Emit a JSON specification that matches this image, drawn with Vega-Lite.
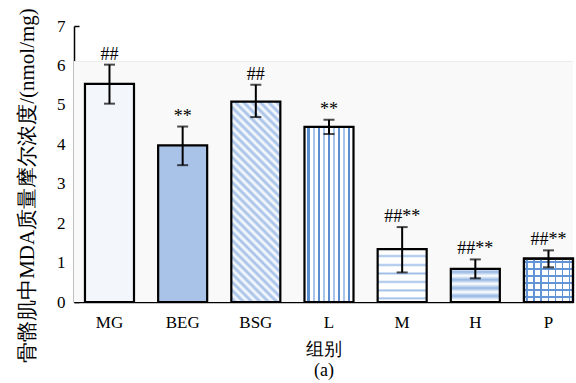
{
  "$schema": "https://vega.github.io/schema/vega-lite/v6.json",
  "width": 499,
  "height": 276,
  "autosize": {"type": "none"},
  "padding": {"left": 74, "top": 26, "right": 3, "bottom": 81},
  "background": "white",
  "config": {
    "view": {"stroke": null},
    "font": "Liberation Serif",
    "axisX": {
      "labelAngle": 0, "ticks": false,
      "domainColor": "black", "domainWidth": 1.5,
      "labelFont": "Liberation Serif", "labelFontSize": 17, "labelColor": "black", "labelPadding": 12,
      "titleFont": "Liberation Serif", "titleFontSize": 18, "titleFontWeight": "normal",
      "titleColor": "black", "titleLineHeight": 21, "titleY": 38, "titleBaseline": "top"
    },
    "axisY": {
      "grid": false, "tickCount": 7,
      "tickSize": -5, "tickColor": "black", "tickWidth": 1.5,
      "domainColor": "black", "domainWidth": 1.5,
      "labelFont": "Liberation Serif", "labelFontSize": 17, "labelColor": "black", "labelPadding": 14,
      "titleFont": "Liberation Serif", "titleFontSize": 21, "titleFontWeight": "normal",
      "titleColor": "black", "titleX": -47, "titleY": 159, "titleAngle": -90,
      "titleAlign": "center", "titleBaseline": "middle"
    }
  },
  "data": {"values": [
    {"g": "MG", "v": 5.53, "lo": 5.03, "hi": 6.02, "sig": "##"},
    {"g": "BEG", "v": 3.97, "lo": 3.47, "hi": 4.45, "sig": "**"},
    {"g": "BSG", "v": 5.08, "lo": 4.69, "hi": 5.51, "sig": "##"},
    {"g": "L", "v": 4.44, "lo": 4.26, "hi": 4.62, "sig": "**"},
    {"g": "M", "v": 1.34, "lo": 0.75, "hi": 1.9, "sig": "##**"},
    {"g": "H", "v": 0.84, "lo": 0.6, "hi": 1.08, "sig": "##**"},
    {"g": "P", "v": 1.1, "lo": 0.88, "hi": 1.31, "sig": "##**"}
  ]},
  "encoding": {
    "x": {
      "field": "g", "type": "nominal",
      "sort": ["MG", "BEG", "BSG", "L", "M", "H", "P"],
      "scale": {"domain": ["MG", "BEG", "BSG", "L", "M", "H", "P"], "paddingInner": 0.33, "paddingOuter": 0.075, "align": 1},
      "axis": {"title": ["组别", "(a)"]}
    }
  },
  "layer": [
    {
      "data": {"values": [{"top": 6.1}]},
      "mark": {"type": "rect", "fill": "#f9f9f9"},
      "encoding": {
        "x": {"value": 0}, "x2": {"value": "width"},
        "y": {"field": "top", "type": "quantitative", "scale": {"domain": [0, 7], "nice": false}, "axis": {"title": "骨骼肌中MDA质量摩尔浓度/(nmol/mg)"}},
        "y2": {"datum": 0}
      }
    },
    {
      "data": {"values": [{"top": 6.1}]},
      "mark": {"type": "rule", "color": "#ebebeb", "strokeWidth": 1},
      "encoding": {
        "x": {"value": 0}, "x2": {"value": "width"},
        "y": {"field": "top", "type": "quantitative", "axis": {"title": "骨骼肌中MDA质量摩尔浓度/(nmol/mg)"}}
      }
    },
    {
      "transform": [{"filter": "datum.g === 'MG'"}],
      "mark": {"type": "bar", "fill": "#f3f7fc", "stroke": "black", "strokeWidth": 2.2},
      "encoding": {"y": {"field": "v", "type": "quantitative", "scale": {"domain": [0, 7], "nice": false}, "axis": {"title": "骨骼肌中MDA质量摩尔浓度/(nmol/mg)"}}}
    },
    {
      "transform": [{"filter": "datum.g === 'BEG'"}],
      "mark": {"type": "bar", "fill": "#a8c3e7", "stroke": "black", "strokeWidth": 2.2},
      "encoding": {"y": {"field": "v", "type": "quantitative", "axis": {"title": "骨骼肌中MDA质量摩尔浓度/(nmol/mg)"}}}
    },
    {
      "transform": [{"filter": "datum.g === 'BSG'"}],
      "mark": {"type": "bar", "stroke": "black", "strokeWidth": 2.2,
        "fill": {"gradient": "linear", "x1": 0, "y1": 1, "x2": 0.288, "y2": -0.175, "stops": [
          {"offset": 0, "color": "#ffffff"}, {"offset": 0.0167, "color": "#9fbde6"},
          {"offset": 0.0333, "color": "#ffffff"}, {"offset": 0.05, "color": "#9fbde6"},
          {"offset": 0.0667, "color": "#ffffff"}, {"offset": 0.0833, "color": "#9fbde6"},
          {"offset": 0.1, "color": "#ffffff"}, {"offset": 0.1167, "color": "#9fbde6"},
          {"offset": 0.1333, "color": "#ffffff"}, {"offset": 0.15, "color": "#9fbde6"},
          {"offset": 0.1667, "color": "#ffffff"}, {"offset": 0.1833, "color": "#9fbde6"},
          {"offset": 0.2, "color": "#ffffff"}, {"offset": 0.2167, "color": "#9fbde6"},
          {"offset": 0.2333, "color": "#ffffff"}, {"offset": 0.25, "color": "#9fbde6"},
          {"offset": 0.2667, "color": "#ffffff"}, {"offset": 0.2833, "color": "#9fbde6"},
          {"offset": 0.3, "color": "#ffffff"}, {"offset": 0.3167, "color": "#9fbde6"},
          {"offset": 0.3333, "color": "#ffffff"}, {"offset": 0.35, "color": "#9fbde6"},
          {"offset": 0.3667, "color": "#ffffff"}, {"offset": 0.3833, "color": "#9fbde6"},
          {"offset": 0.4, "color": "#ffffff"}, {"offset": 0.4167, "color": "#9fbde6"},
          {"offset": 0.4333, "color": "#ffffff"}, {"offset": 0.45, "color": "#9fbde6"},
          {"offset": 0.4667, "color": "#ffffff"}, {"offset": 0.4833, "color": "#9fbde6"},
          {"offset": 0.5, "color": "#ffffff"}, {"offset": 0.5167, "color": "#9fbde6"},
          {"offset": 0.5333, "color": "#ffffff"}, {"offset": 0.55, "color": "#9fbde6"},
          {"offset": 0.5667, "color": "#ffffff"}, {"offset": 0.5833, "color": "#9fbde6"},
          {"offset": 0.6, "color": "#ffffff"}, {"offset": 0.6167, "color": "#9fbde6"},
          {"offset": 0.6333, "color": "#ffffff"}, {"offset": 0.65, "color": "#9fbde6"},
          {"offset": 0.6667, "color": "#ffffff"}, {"offset": 0.6833, "color": "#9fbde6"},
          {"offset": 0.7, "color": "#ffffff"}, {"offset": 0.7167, "color": "#9fbde6"},
          {"offset": 0.7333, "color": "#ffffff"}, {"offset": 0.75, "color": "#9fbde6"},
          {"offset": 0.7667, "color": "#ffffff"}, {"offset": 0.7833, "color": "#9fbde6"},
          {"offset": 0.8, "color": "#ffffff"}, {"offset": 0.8167, "color": "#9fbde6"},
          {"offset": 0.8333, "color": "#ffffff"}, {"offset": 0.85, "color": "#9fbde6"},
          {"offset": 0.8667, "color": "#ffffff"}, {"offset": 0.8833, "color": "#9fbde6"},
          {"offset": 0.9, "color": "#ffffff"}, {"offset": 0.9167, "color": "#9fbde6"},
          {"offset": 0.9333, "color": "#ffffff"}, {"offset": 0.95, "color": "#9fbde6"},
          {"offset": 0.9667, "color": "#ffffff"}, {"offset": 0.9833, "color": "#9fbde6"},
          {"offset": 1, "color": "#ffffff"}
        ]}},
      "encoding": {"y": {"field": "v", "type": "quantitative", "axis": {"title": "骨骼肌中MDA质量摩尔浓度/(nmol/mg)"}}}
    },
    {
      "transform": [{"filter": "datum.g === 'L'"}],
      "mark": {"type": "bar", "stroke": "black", "strokeWidth": 2.2,
        "fill": {"gradient": "linear", "x1": 0, "y1": 0, "x2": 1, "y2": 0, "stops": [
          {"offset": 0, "color": "#ffffff"},
          {"offset": 0.06, "color": "#ffffff"}, {"offset": 0.06, "color": "#5b8dd1"}, {"offset": 0.104, "color": "#5b8dd1"}, {"offset": 0.104, "color": "#ffffff"},
          {"offset": 0.164, "color": "#ffffff"}, {"offset": 0.164, "color": "#a7c4ea"}, {"offset": 0.208, "color": "#a7c4ea"}, {"offset": 0.208, "color": "#ffffff"},
          {"offset": 0.268, "color": "#ffffff"}, {"offset": 0.268, "color": "#5b8dd1"}, {"offset": 0.312, "color": "#5b8dd1"}, {"offset": 0.312, "color": "#ffffff"},
          {"offset": 0.372, "color": "#ffffff"}, {"offset": 0.372, "color": "#a7c4ea"}, {"offset": 0.416, "color": "#a7c4ea"}, {"offset": 0.416, "color": "#ffffff"},
          {"offset": 0.476, "color": "#ffffff"}, {"offset": 0.476, "color": "#5b8dd1"}, {"offset": 0.52, "color": "#5b8dd1"}, {"offset": 0.52, "color": "#ffffff"},
          {"offset": 0.58, "color": "#ffffff"}, {"offset": 0.58, "color": "#a7c4ea"}, {"offset": 0.624, "color": "#a7c4ea"}, {"offset": 0.624, "color": "#ffffff"},
          {"offset": 0.684, "color": "#ffffff"}, {"offset": 0.684, "color": "#5b8dd1"}, {"offset": 0.728, "color": "#5b8dd1"}, {"offset": 0.728, "color": "#ffffff"},
          {"offset": 0.788, "color": "#ffffff"}, {"offset": 0.788, "color": "#a7c4ea"}, {"offset": 0.832, "color": "#a7c4ea"}, {"offset": 0.832, "color": "#ffffff"},
          {"offset": 0.892, "color": "#ffffff"}, {"offset": 0.892, "color": "#5b8dd1"}, {"offset": 0.936, "color": "#5b8dd1"}, {"offset": 0.936, "color": "#ffffff"},
          {"offset": 1, "color": "#ffffff"}
        ]}},
      "encoding": {"y": {"field": "v", "type": "quantitative", "axis": {"title": "骨骼肌中MDA质量摩尔浓度/(nmol/mg)"}}}
    },
    {
      "transform": [{"filter": "datum.g === 'M'"}],
      "mark": {"type": "bar", "stroke": "black", "strokeWidth": 2.2,
        "fill": {"gradient": "linear", "x1": 0, "y1": 0, "x2": 0, "y2": 1, "stops": [
          {"offset": 0, "color": "#ffffff"},
          {"offset": 0.095, "color": "#ffffff"}, {"offset": 0.13, "color": "#9dbde6"}, {"offset": 0.165, "color": "#ffffff"},
          {"offset": 0.265, "color": "#ffffff"}, {"offset": 0.3, "color": "#9dbde6"}, {"offset": 0.335, "color": "#ffffff"},
          {"offset": 0.425, "color": "#ffffff"}, {"offset": 0.46, "color": "#9dbde6"}, {"offset": 0.495, "color": "#ffffff"},
          {"offset": 0.585, "color": "#ffffff"}, {"offset": 0.62, "color": "#9dbde6"}, {"offset": 0.655, "color": "#ffffff"},
          {"offset": 0.745, "color": "#ffffff"}, {"offset": 0.78, "color": "#9dbde6"}, {"offset": 0.815, "color": "#ffffff"},
          {"offset": 0.895, "color": "#ffffff"}, {"offset": 0.93, "color": "#9dbde6"}, {"offset": 0.965, "color": "#ffffff"},
          {"offset": 1, "color": "#ffffff"}
        ]}},
      "encoding": {"y": {"field": "v", "type": "quantitative", "axis": {"title": "骨骼肌中MDA质量摩尔浓度/(nmol/mg)"}}}
    },
    {
      "transform": [{"filter": "datum.g === 'H'"}],
      "mark": {"type": "bar", "stroke": "black", "strokeWidth": 2.2,
        "fill": {"gradient": "linear", "x1": 0, "y1": 0, "x2": 0, "y2": 1, "stops": [
          {"offset": 0, "color": "#ffffff"}, {"offset": 0.09, "color": "#93b5e2"},
          {"offset": 0.21, "color": "#ffffff"}, {"offset": 0.33, "color": "#93b5e2"},
          {"offset": 0.45, "color": "#ffffff"}, {"offset": 0.58, "color": "#93b5e2"},
          {"offset": 0.7, "color": "#ffffff"}, {"offset": 0.82, "color": "#93b5e2"},
          {"offset": 0.94, "color": "#ffffff"}, {"offset": 1, "color": "#ffffff"}
        ]}},
      "encoding": {"y": {"field": "v", "type": "quantitative", "axis": {"title": "骨骼肌中MDA质量摩尔浓度/(nmol/mg)"}}}
    },
    {
      "transform": [{"filter": "datum.g === 'P'"}],
      "mark": {"type": "bar", "stroke": "black", "strokeWidth": 2.2,
        "fill": {"gradient": "linear", "x1": 0, "y1": 0, "x2": 0, "y2": 1, "stops": [
          {"offset": 0, "color": "#ffffff"},
          {"offset": 0.058, "color": "#ffffff"}, {"offset": 0.058, "color": "#6395d6"}, {"offset": 0.104, "color": "#6395d6"}, {"offset": 0.104, "color": "#ffffff"},
          {"offset": 0.221, "color": "#ffffff"}, {"offset": 0.221, "color": "#6395d6"}, {"offset": 0.267, "color": "#6395d6"}, {"offset": 0.267, "color": "#ffffff"},
          {"offset": 0.384, "color": "#ffffff"}, {"offset": 0.384, "color": "#6395d6"}, {"offset": 0.43, "color": "#6395d6"}, {"offset": 0.43, "color": "#ffffff"},
          {"offset": 0.547, "color": "#ffffff"}, {"offset": 0.547, "color": "#6395d6"}, {"offset": 0.593, "color": "#6395d6"}, {"offset": 0.593, "color": "#ffffff"},
          {"offset": 0.71, "color": "#ffffff"}, {"offset": 0.71, "color": "#6395d6"}, {"offset": 0.756, "color": "#6395d6"}, {"offset": 0.756, "color": "#ffffff"},
          {"offset": 0.872, "color": "#ffffff"}, {"offset": 0.872, "color": "#6395d6"}, {"offset": 0.918, "color": "#6395d6"}, {"offset": 0.918, "color": "#ffffff"},
          {"offset": 1, "color": "#ffffff"}
        ]}},
      "encoding": {"y": {"field": "v", "type": "quantitative", "axis": {"title": "骨骼肌中MDA质量摩尔浓度/(nmol/mg)"}}}
    },
    {
      "transform": [{"filter": "datum.g === 'P'"}],
      "mark": {"type": "bar", "stroke": "black", "strokeWidth": 2.2,
        "fill": {"gradient": "linear", "x1": 0, "y1": 0, "x2": 1, "y2": 0, "stops": [
          {"offset": 0, "color": "rgba(255,255,255,0)"},
          {"offset": 0.051, "color": "rgba(255,255,255,0)"}, {"offset": 0.051, "color": "#6395d6"}, {"offset": 0.091, "color": "#6395d6"}, {"offset": 0.091, "color": "rgba(255,255,255,0)"},
          {"offset": 0.194, "color": "rgba(255,255,255,0)"}, {"offset": 0.194, "color": "#6395d6"}, {"offset": 0.234, "color": "#6395d6"}, {"offset": 0.234, "color": "rgba(255,255,255,0)"},
          {"offset": 0.337, "color": "rgba(255,255,255,0)"}, {"offset": 0.337, "color": "#6395d6"}, {"offset": 0.377, "color": "#6395d6"}, {"offset": 0.377, "color": "rgba(255,255,255,0)"},
          {"offset": 0.48, "color": "rgba(255,255,255,0)"}, {"offset": 0.48, "color": "#6395d6"}, {"offset": 0.52, "color": "#6395d6"}, {"offset": 0.52, "color": "rgba(255,255,255,0)"},
          {"offset": 0.623, "color": "rgba(255,255,255,0)"}, {"offset": 0.623, "color": "#6395d6"}, {"offset": 0.663, "color": "#6395d6"}, {"offset": 0.663, "color": "rgba(255,255,255,0)"},
          {"offset": 0.766, "color": "rgba(255,255,255,0)"}, {"offset": 0.766, "color": "#6395d6"}, {"offset": 0.806, "color": "#6395d6"}, {"offset": 0.806, "color": "rgba(255,255,255,0)"},
          {"offset": 0.909, "color": "rgba(255,255,255,0)"}, {"offset": 0.909, "color": "#6395d6"}, {"offset": 0.949, "color": "#6395d6"}, {"offset": 0.949, "color": "rgba(255,255,255,0)"},
          {"offset": 1, "color": "rgba(255,255,255,0)"}
        ]}},
      "encoding": {"y": {"field": "v", "type": "quantitative", "axis": {"title": "骨骼肌中MDA质量摩尔浓度/(nmol/mg)"}}}
    },
    {
      "mark": {"type": "rule", "color": "black", "strokeWidth": 2},
      "encoding": {
        "y": {"field": "lo", "type": "quantitative", "axis": {"title": "骨骼肌中MDA质量摩尔浓度/(nmol/mg)"}},
        "y2": {"field": "hi"}
      }
    },
    {
      "mark": {"type": "tick", "color": "black", "size": 11, "thickness": 2},
      "encoding": {"y": {"field": "lo", "type": "quantitative", "axis": {"title": "骨骼肌中MDA质量摩尔浓度/(nmol/mg)"}}}
    },
    {
      "mark": {"type": "tick", "color": "black", "size": 11, "thickness": 2},
      "encoding": {"y": {"field": "hi", "type": "quantitative", "axis": {"title": "骨骼肌中MDA质量摩尔浓度/(nmol/mg)"}}}
    },
    {
      "mark": {"type": "text", "font": "Liberation Serif", "fontSize": 18, "color": "black", "baseline": "alphabetic", "align": "center", "dy": -5},
      "encoding": {
        "y": {"field": "hi", "type": "quantitative", "axis": {"title": "骨骼肌中MDA质量摩尔浓度/(nmol/mg)"}},
        "text": {"field": "sig"}
      }
    }
  ]
}
